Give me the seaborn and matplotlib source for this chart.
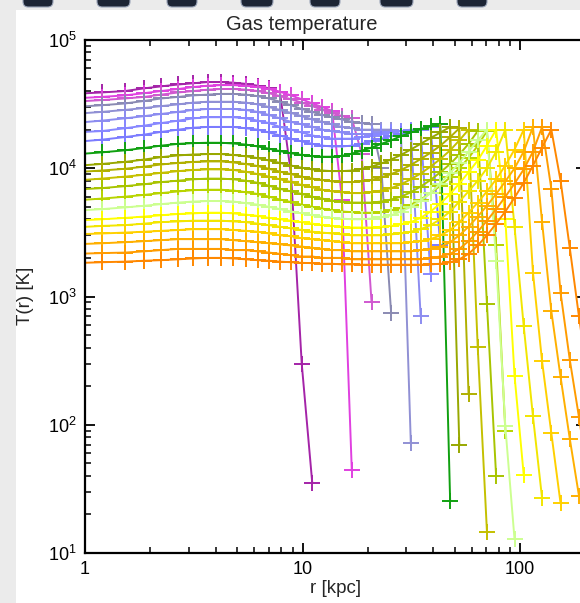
import matplotlib
matplotlib.use("Agg")
import matplotlib.pyplot as plt
import seaborn as sns
import numpy as np
from matplotlib.patches import Rectangle, FancyBboxPatch
from matplotlib.ticker import FixedLocator, NullFormatter, LogLocator

# radial bins [kpc]
radius_kpc = [0.881, 1.193, 1.527, 1.874, 2.236, 2.686, 3.147, 3.666, 4.221, 4.806,
              5.483, 6.223, 7.015, 7.880, 8.855, 9.916, 11.09, 12.33, 13.68, 15.19,
              16.85, 18.70, 20.76, 23.03, 25.55, 28.37, 31.47, 34.92, 38.78, 43.02,
              47.72, 52.60, 57.98, 63.91, 70.45, 77.66, 85.60, 94.35, 104.0, 114.7,
              126.3, 139.3, 153.6, 169.3, 186.6, 205.7]

# gas temperature profiles [10^3 K], one list per snapshot
T01_kK = [38, 39, 40, 42, 43.5, 45, 46, 47, 47, 46.5, 45.5, 44, 42, 39, 9.0, 0.30, 0.035]
T02_kK = [35, 36, 37, 38.5, 40, 41.5, 43, 44, 44.5, 44.5, 44, 43, 41.5, 39.5, 37, 34.5, 32, 30, 28, 5.7, 0.044]
T03_kK = [33, 34, 35, 36, 37.5, 39, 40, 41, 41.5, 41.5, 41, 40, 38.5, 36.5, 34.5, 32.5, 30.5, 28.5, 27, 25.5,
          24.5, 13, 0.91]
T04_kK = [30, 31, 32, 33.5, 35, 36, 37, 37.5, 38, 38, 37.5, 36.5, 35, 33, 31, 29, 27.5, 26, 25, 24, 23, 22.5,
          22, 10, 0.747]
T05_kK = [26.5, 27.5, 28.5, 29.5, 30.5, 31.5, 32.5, 33, 33, 33, 32.5, 31.5, 30, 28.5, 27, 25.5, 24, 23, 22, 21,
          20.5, 20, 20, 20, 20, 18, 0.072]
T06_kK = [22.5, 23.5, 24.5, 25.5, 26.5, 27.5, 28.5, 29, 29, 29, 28.5, 27.5, 26, 24.5, 23, 22, 21, 20, 19.5, 19,
          18.5, 18.5, 18.5, 19, 19, 19.5, 19.5, 0.70]
T07_kK = [19, 19.5, 20.5, 21.5, 22.5, 23.5, 24.5, 25, 25, 25, 24.5, 23.5, 22.5, 21, 20, 19, 18, 17.5, 17, 17,
          17, 17.5, 18, 18.5, 19, 19.5, 20, 20, 1.5]
T08_kK = [16, 16.7, 17.5, 18.3, 19.2, 20, 20.7, 21, 21, 21, 20.5, 20, 19, 18, 17, 16.2, 15.5, 15, 14.8, 14.8,
          15, 15.5, 16.2, 17, 17.8, 18.6, 19.5, 20.3, 21, 2.5]
T09_kK = [12.8, 13.3, 13.8, 14.4, 15, 15.5, 15.7, 15.8, 15.8, 15.6, 15.3, 14.8, 14.2, 13.6, 13.1, 12.7, 12.4,
          12.3, 12.3, 12.5, 13, 13.7, 14.5, 15.5, 16.5, 17.8, 19, 20.2, 21.2, 22, 0.0256]
T10_kK = [10.4, 10.8, 11.2, 11.7, 12.2, 12.6, 12.8, 12.9, 12.9, 12.7, 12.4, 12, 11.5, 11, 10.5, 10.1, 9.8, 9.6,
          9.5, 9.5, 9.6, 9.9, 10.3, 10.9, 11.7, 12.7, 14, 15.5, 17.2, 19, 21, 0.069]
T11_kK = [9.3, 9.6, 9.9, 10.3, 10.7, 11, 11.2, 11.3, 11.3, 11.1, 10.8, 10.4, 9.9, 9.4, 9.0, 8.6, 8.3, 8.1, 7.9,
          7.8, 7.8, 7.9, 8.1, 8.5, 9.0, 9.7, 10.6, 11.8, 13.2, 15, 17.5, 20.5, 0.175]
T12_kK = [8.0, 8.3, 8.6, 8.9, 9.2, 9.5, 9.7, 9.8, 9.8, 9.7, 9.4, 9.0, 8.6, 8.2, 7.8, 7.4, 7.1, 6.8, 6.6, 6.5,
          6.4, 6.4, 6.5, 6.7, 7.0, 7.5, 8.2, 9.1, 10.3, 11.8, 13.8, 16.5, 20, 0.402, 0.0147]
T13_kK = [6.8, 7.0, 7.25, 7.5, 7.8, 8.0, 8.2, 8.3, 8.3, 8.2, 8.0, 7.7, 7.3, 6.9, 6.6, 6.3, 6.0, 5.8, 5.6, 5.5,
          5.4, 5.4, 5.4, 5.5, 5.7, 6.0, 6.5, 7.2, 8.1, 9.3, 10.8, 12.8, 15.5, 19.5, 0.877, 0.0395]
T14_kK = [5.6, 5.8, 6.0, 6.2, 6.4, 6.6, 6.75, 6.8, 6.8, 6.7, 6.5, 6.3, 6.0, 5.7, 5.45, 5.2, 5.0, 4.85, 4.7, 4.6,
          4.55, 4.5, 4.5, 4.55, 4.7, 4.9, 5.2, 5.7, 6.4, 7.3, 8.5, 10, 12, 15, 19.5, 2.5, 0.09]
T15_kK = [4.65, 4.8, 4.95, 5.1, 5.25, 5.4, 5.5, 5.55, 5.55, 5.5, 5.35, 5.2, 5.0, 4.8, 4.6, 4.45, 4.3, 4.2, 4.1,
          4.05, 4.0, 4.0, 4.05, 4.15, 4.3, 4.6, 5.0, 5.6, 6.4, 7.6, 9.2, 11, 13.5, 16.5, 20, 1.89, 0.097, 0.0128]
T16_kK = [3.9, 4.0, 4.1, 4.2, 4.3, 4.4, 4.45, 4.5, 4.5, 4.45, 4.35, 4.25, 4.1, 4.0, 3.9, 3.8, 3.7, 3.6, 3.55,
          3.5, 3.45, 3.45, 3.45, 3.5, 3.55, 3.65, 3.8, 4.1, 4.6, 5.3, 6.3, 7.6, 9.3, 11.5, 15, 20, 4.0, 0.241,
          0.0406]
T17_kK = [3.45, 3.55, 3.6, 3.7, 3.8, 3.85, 3.9, 3.9, 3.9, 3.85, 3.8, 3.7, 3.6, 3.5, 3.4, 3.3, 3.2, 3.15, 3.1,
          3.05, 3.0, 3.0, 3.0, 3.0, 3.05, 3.1, 3.2, 3.35, 3.6, 4.0, 4.6, 5.5, 6.6, 8.0, 10, 13.5, 20, 3.5, 0.586,
          0.116, 0.0267]
T18_kK = [3.05, 3.1, 3.15, 3.2, 3.25, 3.3, 3.35, 3.35, 3.35, 3.3, 3.25, 3.2, 3.1, 3.0, 2.95, 2.85, 2.8, 2.75,
          2.7, 2.65, 2.6, 2.6, 2.6, 2.6, 2.6, 2.6, 2.65, 2.7, 2.8, 3.0, 3.3, 3.8, 4.5, 5.4, 6.6, 8.2, 10.5, 14, 20,
          1.53, 0.312, 0.086, 0.0244]
T19_kK = [2.55, 2.6, 2.65, 2.7, 2.75, 2.8, 2.8, 2.8, 2.8, 2.75, 2.7, 2.65, 2.6, 2.55, 2.5, 2.45, 2.4, 2.35, 2.3,
          2.3, 2.25, 2.25, 2.25, 2.25, 2.25, 2.25, 2.25, 2.3, 2.35, 2.45, 2.65, 3.0, 3.5, 4.2, 5.1, 6.3, 7.9, 10,
          13.5, 21, 3.8, 0.767, 0.236, 0.078, 0.028]
T20_kK = [2.15, 2.18, 2.2, 2.25, 2.3, 2.35, 2.35, 2.35, 2.35, 2.3, 2.3, 2.25, 2.2, 2.15, 2.1, 2.05, 2.05, 2.0,
          2.0, 2.0, 1.95, 1.95, 1.95, 1.95, 1.95, 1.95, 1.95, 1.95, 2.0, 2.05, 2.15, 2.35, 2.7, 3.2, 3.9, 4.8, 6.0,
          7.6, 9.8, 13.5, 21, 6.9, 1.07, 0.322, 0.115, 0.038]
T21_kK = [1.82, 1.85, 1.87, 1.9, 1.92, 1.95, 1.98, 2.0, 2.0, 1.98, 1.95, 1.92, 1.9, 1.87, 1.85, 1.83, 1.82, 1.8,
          1.8, 1.78, 1.78, 1.77, 1.77, 1.77, 1.77, 1.77, 1.77, 1.77, 1.78, 1.8, 1.85, 1.95, 2.15, 2.5, 3.0, 3.7,
          4.6, 5.9, 7.7, 10.5, 14.5, 20, 8.0, 2.4, 0.70, 0.22]

curve_colors = ["#a424a8", "#e040e0", "#d058d0", "#8a8ab2", "#9090d4", "#8c8cf0", "#8888ff", "#7c7cff",
                "#10a010", "#98a800", "#b0b000", "#c4c000", "#a8c400", "#b8d400", "#ccff90",
                "#ffff00", "#f2e600", "#ffd000", "#ffb000", "#ff9c00", "#ff8800"]

title_text = "Gas temperature"
xlabel_text = "r [kpc]"
ylabel_text = "T(r) [K]"
xtick_values = [1, 10, 100]
xtick_labels = ["1", "10", "100"]

profiles = [T01_kK, T02_kK, T03_kK, T04_kK, T05_kK, T06_kK, T07_kK, T08_kK, T09_kK, T10_kK, T11_kK,
            T12_kK, T13_kK, T14_kK, T15_kK, T16_kK, T17_kK, T18_kK, T19_kK, T20_kK, T21_kK]

sns.set_style("ticks")
plt.rcParams["font.family"] = ["Liberation Sans", "DejaVu Sans"]
plt.rcParams["mathtext.default"] = "regular"

W, H = 580, 603
fig = plt.figure(figsize=(W / 100, H / 100), dpi=100)
fig.patch.set_facecolor("#ebebeb")
fig.add_artist(Rectangle((16 / W, 0), 1, 1 - 10 / H, transform=fig.transFigure,
                         facecolor="white", edgecolor="none", zorder=0))
for x0, x1 in [(23, 53), (97, 130), (167, 197), (241, 273), (310, 340), (380, 413), (457, 487)]:
    fig.add_artist(FancyBboxPatch((x0 / W, 1 - 7 / H), (x1 - x0) / W, 14 / H,
                                  boxstyle="round,pad=0,rounding_size=0.009",
                                  transform=fig.transFigure, facecolor="#1d2535",
                                  edgecolor="#9aa4b8", linewidth=0.8, zorder=1))

ax = fig.add_axes([85 / W, 50 / H, 500.5 / W, 513 / H])
ax.set_facecolor("white")

for vals, col in zip(profiles, curve_colors):
    n = len(vals)
    sns.lineplot(x=radius_kpc[:n], y=np.array(vals) * 1000.0, ax=ax, color=col,
                 linewidth=1.4, marker="+", markersize=11, markeredgewidth=1.4,
                 markeredgecolor=col, estimator=None, sort=False, legend=False)

for ln in ax.lines:
    ln.set_markeredgecolor(ln.get_color())

ax.set_xscale("log")
ax.set_yscale("log")
ax.set_xlim(1, 200)
ax.set_ylim(10, 1e5)
ax.set_xlabel("")
ax.set_ylabel("")
ax.set_xticks(xtick_values, labels=xtick_labels)
ax.xaxis.set_minor_locator(LogLocator(base=10, subs=np.arange(2, 10)))
ax.xaxis.set_minor_formatter(NullFormatter())
ax.yaxis.set_major_locator(LogLocator(base=10, numticks=10))
ax.yaxis.set_minor_locator(LogLocator(base=10, subs=np.arange(2, 10), numticks=20))
ax.yaxis.set_minor_formatter(NullFormatter())
ax.tick_params(which="both", direction="in", top=True, right=True, colors="black", labelsize=13)
ax.tick_params(which="major", length=7.5, width=1.3, pad=6)
ax.tick_params(which="minor", length=4, width=1.1)
for s in ax.spines.values():
    s.set_linewidth(1.6)
    s.set_color("black")

fig.text(302 / W, 1 - 30 / H, title_text, ha="center", va="baseline", fontsize=14.5)
fig.text(336 / W, 1 - 593 / H, xlabel_text, ha="center", va="baseline", fontsize=13.5)
fig.text(26 / W, 1 - 296 / H, ylabel_text, rotation=90, ha="center", va="center", fontsize=13.5)

fig.savefig("out.png", dpi=100, facecolor=fig.get_facecolor())
